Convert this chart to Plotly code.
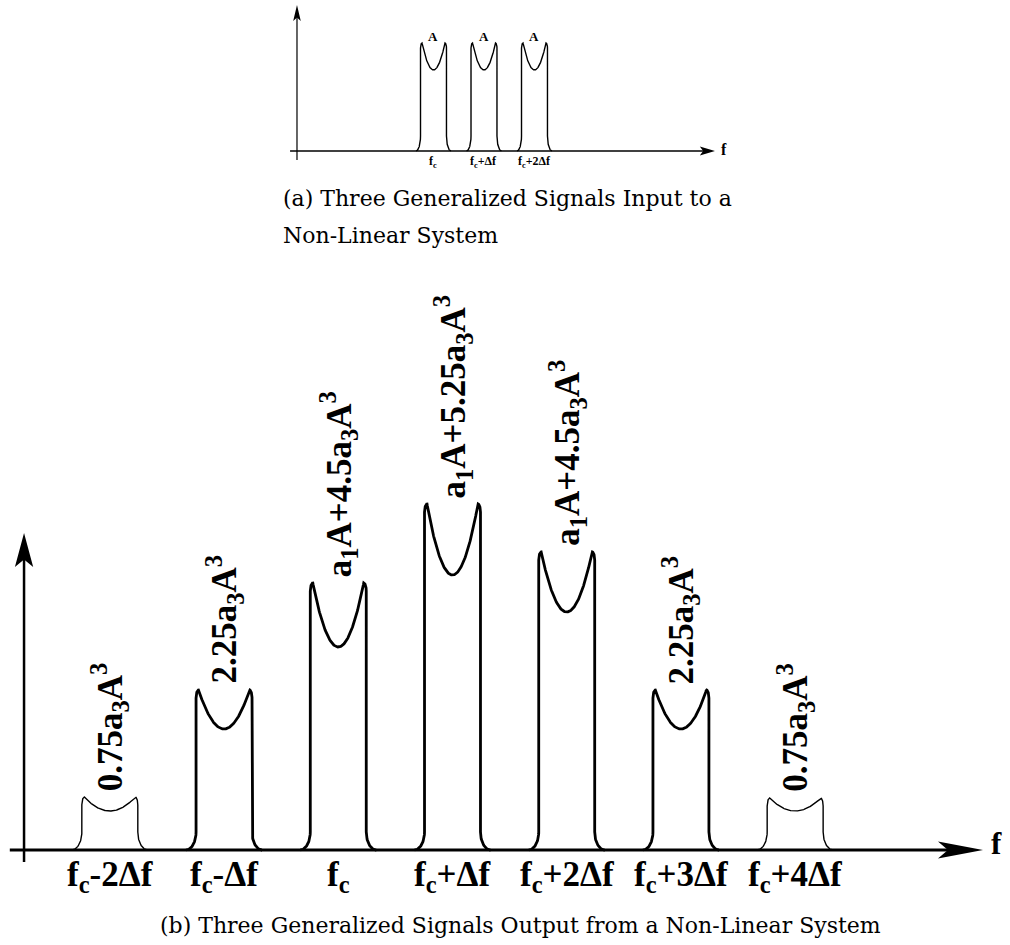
import numpy as np
import plotly.graph_objects as go

# ---------------- data ----------------
# (b) output spectrum
out_offsets = [-2, -1, 0, 1, 2, 3, 4]
out_tick_labels = ["f<sub>c</sub>-2Δf", "f<sub>c</sub>-Δf", "f<sub>c</sub>", "f<sub>c</sub>+Δf",
                   "f<sub>c</sub>+2Δf", "f<sub>c</sub>+3Δf", "f<sub>c</sub>+4Δf"]
out_amp_labels = ["0.75a<sub>3</sub>A<sup>3</sup>", "2.25a<sub>3</sub>A<sup>3</sup>",
                  "a<sub>1</sub>A+4.5a<sub>3</sub>A<sup>3</sup>", "a<sub>1</sub>A+5.25a<sub>3</sub>A<sup>3</sup>",
                  "a<sub>1</sub>A+4.5a<sub>3</sub>A<sup>3</sup>", "2.25a<sub>3</sub>A<sup>3</sup>",
                  "0.75a<sub>3</sub>A<sup>3</sup>"]
out_peak = [0.53, 1.60, 2.67, 3.46, 2.98, 1.60, 0.52]
out_dip = [0.39, 1.21, 2.03, 2.75, 2.38, 1.21, 0.39]
out_width = [1.4, 2.8, 2.8, 2.8, 2.8, 2.8, 1.4]

# (a) input spectrum
in_offsets = [0, 1, 2]
in_tick_labels = ["f<sub>c</sub>", "f<sub>c</sub>+Δf", "f<sub>c</sub>+2Δf"]
in_amp_labels = ["A", "A", "A"]
in_peak = [1.08, 1.08, 1.08]
in_dip = [0.81, 0.81, 0.81]

caption_a = ["(a) Three Generalized Signals Input to a", "Non-Linear System"]
caption_b = "(b) Three Generalized Signals Output from a Non-Linear System"


def lump(c, peak, dip, hw, fw, fh, cw, ch, n=40):
    xs, ys = [], []
    th = np.linspace(0, np.pi / 2, n)
    xs += list(c - hw - fw + fw * np.sin(th)); ys += list(fh - fh * np.cos(th))
    ph = np.linspace(0, np.pi / 2, n)
    xs += list(c - hw + cw - cw * np.cos(ph)); ys += list(peak - ch + ch * np.sin(ph))
    u0 = hw - cw
    u = np.linspace(-u0, u0, 4 * n)
    xs += list(c + u); ys += list(dip + (peak - dip) * (u / u0) ** 2)
    ph = np.linspace(np.pi / 2, 0, n)
    xs += list(c + hw - cw + cw * np.cos(ph)); ys += list(peak - ch + ch * np.sin(ph))
    th = np.linspace(np.pi / 2, 0, n)
    xs += list(c + hw + fw - fw * np.sin(th)); ys += list(fh - fh * np.cos(th))
    return xs, ys


fig = go.Figure()

# bottom diagram lumps
for c, p, d, w in zip(out_offsets, out_peak, out_dip, out_width):
    xs, ys = lump(c, p, d, 0.245, 0.088, 0.18, 0.022, 0.08)
    fig.add_trace(go.Scatter(x=xs, y=ys, mode="lines", line=dict(color="black", width=w),
                             hoverinfo="skip", showlegend=False, xaxis="x", yaxis="y"))

# top diagram lumps
for c, p, d in zip(in_offsets, in_peak, in_dip):
    xs, ys = lump(c, p, d, 0.257, 0.089, 0.15, 0.03, 0.05)
    fig.add_trace(go.Scatter(x=xs, y=ys, mode="lines", line=dict(color="black", width=1.4),
                             hoverinfo="skip", showlegend=False, xaxis="x2", yaxis="y2"))

shapes = []
# bottom axes
bx0, btip, byax, bytip = -2.8757, 5.6445, -2.751, 3.17
shapes.append(dict(type="line", xref="x", yref="y", x0=bx0, x1=btip - 0.3, y0=0, y1=0,
                   line=dict(color="black", width=3)))
L, H = 0.394, 0.085
shapes.append(dict(type="path", xref="x", yref="y",
                   path=f"M{btip},0 L{btip-L},{H} L{btip-0.78*L},0 L{btip-L},{-H} Z",
                   fillcolor="black", line=dict(width=0)))
shapes.append(dict(type="line", xref="x", yref="y", x0=byax, x1=byax, y0=-0.12, y1=bytip - 0.25,
                   line=dict(color="black", width=2.5)))
L2, H2 = 0.34, 0.08
shapes.append(dict(type="path", xref="x", yref="y",
                   path=f"M{byax},{bytip} L{byax-H2},{bytip-L2} L{byax},{bytip-0.78*L2} L{byax+H2},{bytip-L2} Z",
                   fillcolor="black", line=dict(width=0)))

# top axes
tx0, ttip, tyax, tytip = -2.84, 5.574, -2.703, 1.46
shapes.append(dict(type="line", xref="x2", yref="y2", x0=tx0, x1=ttip - 0.2, y0=0, y1=0,
                   line=dict(color="black", width=1.4)))
L3, H3 = 0.30, 0.045
shapes.append(dict(type="path", xref="x2", yref="y2",
                   path=f"M{ttip},0 L{ttip-L3},{H3} L{ttip-0.78*L3},0 L{ttip-L3},{-H3} Z",
                   fillcolor="black", line=dict(width=0)))
shapes.append(dict(type="line", xref="x2", yref="y2", x0=tyax, x1=tyax, y0=-0.09, y1=tytip - 0.1,
                   line=dict(color="black", width=1.2)))
L4, H4 = 0.16, 0.075
shapes.append(dict(type="path", xref="x2", yref="y2",
                   path=f"M{tyax},{tytip} L{tyax-H4},{tytip-L4} L{tyax},{tytip-0.78*L4} L{tyax+H4},{tytip-L4} Z",
                   fillcolor="black", line=dict(width=0)))

ann = []
bold = dict(family="Liberation Serif", color="black")
for c, t in zip(out_offsets, out_tick_labels):
    ann.append(dict(x=c, y=-0.03, xref="x", yref="y", text=f"<b>{t}</b>", showarrow=False,
                    xanchor="center", yanchor="top", font=dict(size=35, **bold)))
for c, p, t in zip(out_offsets, out_peak, out_amp_labels):
    ann.append(dict(x=c, y=p + 0.04, xref="x", yref="y", text=f"<b>{t}</b>", showarrow=False,
                    textangle=-90, xanchor="center", yanchor="bottom", font=dict(size=35, **bold)))
ann.append(dict(x=5.765, y=0.07, xref="x", yref="y", text="<b>f</b>", showarrow=False,
                xanchor="center", yanchor="middle", font=dict(size=31, **bold)))

for c, t in zip(in_offsets, in_tick_labels):
    ann.append(dict(x=c, y=-0.005, xref="x2", yref="y2", text=f"<b>{t}</b>", showarrow=False,
                    xanchor="center", yanchor="top", font=dict(size=12, **bold)))
for c, p, t in zip(in_offsets, in_peak, in_amp_labels):
    ann.append(dict(x=c, y=p + 0.07, xref="x2", yref="y2", text=f"<b>{t}</b>", showarrow=False,
                    xanchor="center", yanchor="middle", font=dict(size=13, **bold)))
ann.append(dict(x=5.76, y=0.02, xref="x2", yref="y2", text="<b>f</b>", showarrow=False,
                xanchor="center", yanchor="middle", font=dict(size=16, **bold)))

cap = dict(family="DejaVu Serif", color="black", size=22)
ann.append(dict(x=281 / 1010, y=1 - 198 / 945, xref="paper", yref="paper", text=caption_a[0],
                showarrow=False, xanchor="left", yanchor="middle", font=cap))
ann.append(dict(x=281 / 1010, y=1 - 236 / 945, xref="paper", yref="paper", text=caption_a[1],
                showarrow=False, xanchor="left", yanchor="middle", font=cap))
ann.append(dict(x=158 / 1010, y=1 - 925 / 945, xref="paper", yref="paper", text=caption_b,
                showarrow=False, xanchor="left", yanchor="middle", font=cap))

ax = dict(visible=False, fixedrange=True)
fig.update_layout(
    width=1010, height=945, autosize=False,
    margin=dict(l=0, r=0, t=0, b=0),
    paper_bgcolor="white", plot_bgcolor="white",
    showlegend=False,
    xaxis=dict(range=[-2.9615, 5.8809], domain=[0, 1], **ax),
    yaxis=dict(range=[-0.95, 8.5], domain=[0, 1], **ax),
    xaxis2=dict(range=[-8.584, 11.416], overlaying="x", **ax),
    yaxis2=dict(range=[-7.94, 1.51], overlaying="y", **ax),
    shapes=shapes, annotations=ann,
)

fig.write_html("out.html", config={"displayModeBar": False})
